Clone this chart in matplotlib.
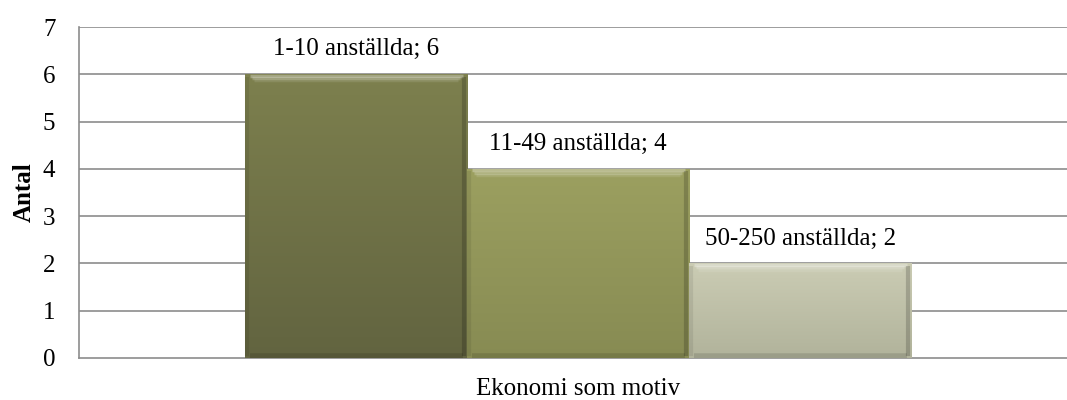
import numpy as np
import matplotlib
matplotlib.use('Agg')
import matplotlib.pyplot as plt
from matplotlib.colors import LinearSegmentedColormap

plt.rcParams['font.family'] = ['Liberation Serif', 'DejaVu Serif']

# Data
category = 'Ekonomi som motiv'
series = ['1-10 anställda', '11-49 anställda', '50-250 anställda']
values = [6, 4, 2]
# top / bottom gradient colours per series
top_colors = ['#7d804e', '#9ca060', '#cbccb4']
bottom_colors = ['#626440', '#878b53', '#b1b39b']

fig = plt.figure(figsize=(10.67, 4.0), dpi=100)
ax = fig.add_axes([79 / 1067, 42 / 400, (1067 - 79) / 1067, (358 - 27) / 400])

bar_w = 1.0
offsets = np.arange(len(series)) - (len(series) - 1) / 2

# grid
for y in range(1, 8):
    ax.axhline(y, color='#8c8c8c', lw=1.2, zorder=1)

for i, (name, v) in enumerate(zip(series, values)):
    x0 = offsets[i] - bar_w / 2
    bars = ax.bar(offsets[i], v, width=bar_w, color=top_colors[i], zorder=2,
                  linewidth=0)
    patch = bars[0]
    cmap = LinearSegmentedColormap.from_list('g%d' % i, [bottom_colors[i], top_colors[i]])
    grad = np.linspace(0, 1, 256).reshape(-1, 1)
    im = ax.imshow(grad, cmap=cmap, origin='lower', aspect='auto',
                   extent=[x0, x0 + bar_w, 0, v], zorder=3)
    im.set_clip_path(patch)
    # soft bevel: light top band, darker sides and bottom
    for k, a in enumerate([0.3, 0.2, 0.1]):
        ax.plot([x0 + 0.02 + 0.01 * k, x0 + bar_w - 0.02 - 0.01 * k],
                [v - 0.03 - 0.05 * k] * 2, color='white',
                alpha=a, lw=2.5, zorder=4, solid_capstyle='butt')
    ax.plot([x0 + bar_w - 0.012, x0 + bar_w - 0.012], [0.05, v - 0.05], color='black',
            alpha=0.18, lw=3, zorder=4, solid_capstyle='butt')
    ax.plot([x0 + 0.01, x0 + 0.01], [0.05, v - 0.05], color='black',
            alpha=0.08, lw=3, zorder=4, solid_capstyle='butt')
    ax.plot([x0 + 0.02, x0 + bar_w - 0.02], [0.05, 0.05], color='black',
            alpha=0.12, lw=4, zorder=4, solid_capstyle='butt')
    ax.annotate('%s; %d' % (name, v), xy=(offsets[i], v), xytext=(0, 10),
                textcoords='offset points', ha='center', va='bottom',
                fontsize=18, color='black')

ax.set_xlim(-2.248, 2.202)
ax.set_ylim(0, 7)

for side in ['top', 'right']:
    ax.spines[side].set_visible(False)
ax.spines['left'].set_color('#8c8c8c')
ax.spines['bottom'].set_color('#8c8c8c')
ax.spines['left'].set_linewidth(1.2)
ax.spines['bottom'].set_linewidth(1.2)

ax.set_yticks(range(0, 8))
ax.tick_params(axis='y', length=0, pad=17, labelsize=18)
ax.set_xticks([0])
ax.set_xticklabels([''])
ax.tick_params(axis='x', length=0)

ax.set_ylabel('Antal', fontsize=18, fontweight='bold', labelpad=5)
fig.text((79 + 1077) / 2 / 1067, 1 - 389 / 400, category, ha='center', va='center',
         fontsize=18)

fig.savefig('out.png', dpi=100)
